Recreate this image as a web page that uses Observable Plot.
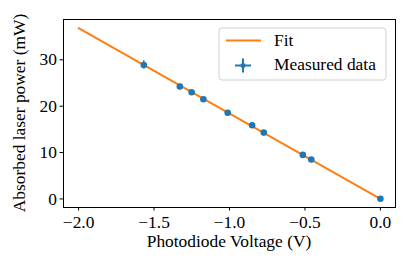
<!DOCTYPE html>
<html>
<head>
<meta charset="utf-8">
<script src="https://cdn.jsdelivr.net/npm/d3@7"></script>
<script src="https://cdn.jsdelivr.net/npm/@observablehq/plot@0.6"></script>
<style>
  html, body { margin: 0; padding: 0; background: #fff; }
  #chart { width: 407px; height: 270px; }
  #chart svg, #chart svg text { font-family: 'Liberation Serif', 'Times New Roman', serif !important; }
</style>
</head>
<body>
<div id="chart"></div>
<script>
// Measured data
const voltage = [-1.568, -1.329, -1.251, -1.173, -1.012, -0.850, -0.773, -0.514, -0.458, 0.0];
const power   = [28.9, 24.25, 23.0, 21.5, 18.6, 15.9, 14.3, 9.5, 8.5, 0.05];
const powerErr = [0.9, 0.5, 0.5, 0.4, 0.4, 0.4, 0.3, 0.3, 0.3, 0.2];
const voltageErr = [0.01, 0.01, 0.01, 0.01, 0.01, 0.01, 0.01, 0.01, 0.01, 0.01];
// Fit line endpoints
const fitX = [-2.0, 0.0];
const fitY = [36.85, 0.0];
// Ticks
const xTicks = [-2.0, -1.5, -1.0, -0.5, 0.0];
const yTicks = [0, 10, 20, 30];
const xLabel = "Photodiode Voltage (V)";
const yLabel = "Absorbed laser power (mW)";
const legendLabels = ["Fit", "Measured data"];

const blue = "#1f77b4", orange = "#ff7f0e";
const FONT = "'Liberation Serif', 'Times New Roman', serif";
const FS = "17.4px";

const data = voltage.map((v, i) => ({x: v, y: power[i], ey: powerErr[i], ex: voltageErr[i]}));
const fit = fitX.map((v, i) => ({x: v, y: fitY[i]}));

const W = 407, H = 270;
const mL = 63, mR = 12, mT = 19, mB = 63;

const chart = Plot.plot({
  width: W, height: H,
  marginLeft: mL, marginRight: mR, marginTop: mT, marginBottom: mB,
  style: {fontFamily: FONT, fontSize: FS, color: "#000", background: "#fff"},
  x: {domain: [-2.1, 0.1], ticks: xTicks, tickFormat: d3.format(".1f"), label: null},
  y: {domain: [-1.85, 38.7], ticks: yTicks, tickFormat: d3.format("d"), label: null},
  marks: [
    Plot.axisX({ticks: xTicks, tickFormat: d3.format(".1f"), tickSize: 3.5, tickPadding: 5, label: null, fontSize: FS}),
    Plot.axisY({ticks: yTicks, tickFormat: d3.format("d"), tickSize: 3.5, tickPadding: 3, label: null, fontSize: FS}),
    Plot.line(fit, {x: "x", y: "y", stroke: orange, strokeWidth: 2}),
    Plot.ruleX(data, {x: "x", y1: d => d.y - d.ey, y2: d => d.y + d.ey, stroke: blue, strokeWidth: 1.5}),
    Plot.ruleY(data, {y: "y", x1: d => d.x - d.ex, x2: d => d.x + d.ex, stroke: blue, strokeWidth: 1.5}),
    Plot.dot(data, {x: "x", y: "y", r: 3.3, fill: blue, stroke: "none"}),
    Plot.frame({stroke: "#000", strokeWidth: 1})
  ]
});

document.getElementById("chart").appendChild(chart);

// Axis titles and legend
const svg = d3.select(chart);
const plotCx = mL + (W - mL - mR) / 2;
const plotCy = mT + (H - mT - mB) / 2;
svg.append("text")
  .attr("x", plotCx).attr("y", 246.5)
  .attr("text-anchor", "middle")
  .style("font-family", FONT).style("font-size", FS).attr("fill", "#000")
  .text(xLabel);
svg.append("text")
  .attr("transform", `translate(24.5,${plotCy}) rotate(-90)`)
  .attr("text-anchor", "middle")
  .style("font-family", FONT).style("font-size", FS).attr("fill", "#000")
  .text(yLabel);

const lg = svg.append("g");
lg.append("rect")
  .attr("x", 219).attr("y", 28).attr("width", 167).attr("height", 52)
  .attr("rx", 3).attr("fill", "#fff").attr("fill-opacity", 0.8)
  .attr("stroke", "#d0d0d0").attr("stroke-width", 1);
lg.append("line").attr("x1", 226).attr("x2", 261).attr("y1", 40.5).attr("y2", 40.5)
  .attr("stroke", orange).attr("stroke-width", 2);
lg.append("line").attr("x1", 235).attr("x2", 251).attr("y1", 65.5).attr("y2", 65.5)
  .attr("stroke", blue).attr("stroke-width", 2);
lg.append("line").attr("x1", 243).attr("x2", 243).attr("y1", 58.5).attr("y2", 72.5)
  .attr("stroke", blue).attr("stroke-width", 2);
lg.append("circle").attr("cx", 243).attr("cy", 65.5).attr("r", 2.5).attr("fill", blue);
const legendBaselines = [45.5, 69.8];
legendLabels.forEach((t, i) => {
  lg.append("text").attr("x", 274).attr("y", legendBaselines[i])
    .attr("text-anchor", "start")
    .style("font-family", FONT).style("font-size", FS).attr("fill", "#000")
    .text(t);
});
</script>
</body>
</html>
